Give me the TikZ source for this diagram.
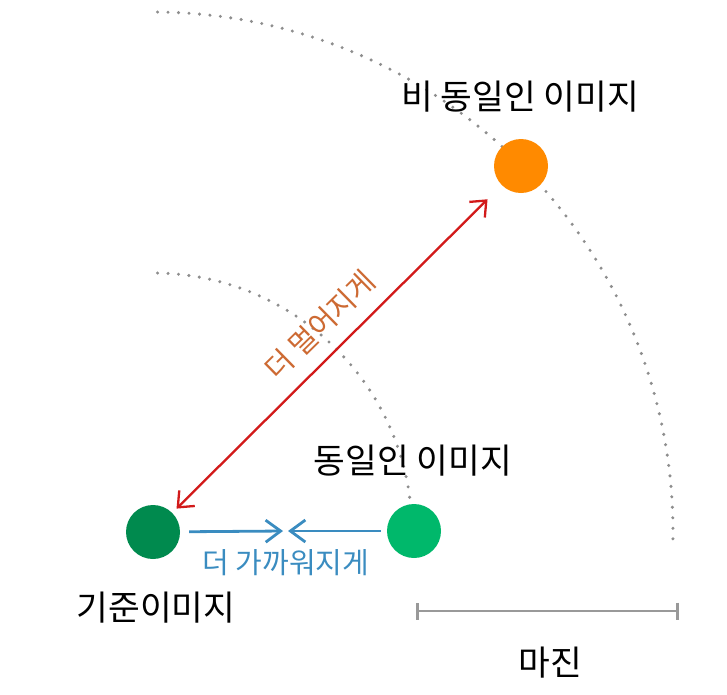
\documentclass[tikz,border=0pt]{standalone}
\usepackage{fontspec}
\setmainfont{Noto Sans CJK KR}
\usetikzlibrary{arrows.meta}
\definecolor{dotgray}{HTML}{8E8E8E}
\definecolor{bargray}{HTML}{999999}
\definecolor{anchorgreen}{HTML}{008A4E}
\definecolor{posgreen}{HTML}{00B86B}
\definecolor{negorange}{HTML}{FF8A00}
\definecolor{arrowred}{HTML}{D21A1A}
\definecolor{arrowblue}{HTML}{3A8CC0}
\definecolor{labelorange}{HTML}{CD6A33}
\tikzset{
  dot/.style={circle, minimum size=54pt, inner sep=0pt, draw=none},
  dotline/.style={dotgray, line width=3.4pt, line cap=round, dash pattern=on 0pt off 10.5pt},
  bigtext/.style={font=\fontsize{34.5}{38}\selectfont, inner sep=0pt, text=black},
  smalltext/.style={font=\fontsize{29}{32}\selectfont, inner sep=0pt},
  redarrow/.style={arrowred, line width=2.3pt, {Straight Barb[length=13pt,width=22pt,line width=2.3pt]}-{Straight Barb[length=13pt,width=22pt,line width=2.3pt]}},
  bluearrow/.style={arrowblue, line width=2.8pt, -{Straight Barb[length=15pt,width=22pt,line width=2.8pt]}},
  marginbar/.style={bargray, line width=2.8pt, {Bar[width=17pt,line width=2.8pt]}-{Bar[width=17pt,line width=2.8pt]}}
}
\begin{document}
\begin{tikzpicture}[x=1pt, y=-1pt]
\useasboundingbox (0,0) rectangle (727,694);
% arcs (drawn first, circles cover them)
\coordinate (O) at (153,532);
\draw[dotline] (O) ++(-89.5:520) arc[start angle=-89.5, end angle=1.2, radius=520];
\draw[dotline] (O) ++(-89:259) arc[start angle=-89, end angle=0, radius=259];
% circles
\node[dot, fill=anchorgreen] (A) at (153,532) {};
\node[dot, fill=posgreen] (P) at (414,531) {};
\node[dot, fill=negorange] (N) at (521,166) {};
% labels
\node[bigtext] (nlab) at (520,97) {비 동일인 이미지};
\node[bigtext] (plab) at (413,461) {동일인 이미지};
\node[bigtext] (alab) at (156,608) {기준이미지};
\node[bigtext] (mlab) at (550,663) {마진};
% red arrow
\draw[redarrow, shorten <=6pt, shorten >=20pt] (A) -- (N);
\node[smalltext, text=labelorange, rotate=44.5] (far) at (320,325) {더 멀어지게};
% blue arrows
\coordinate (b1) at (283,531);
\coordinate (b2) at (288,531);
\draw[bluearrow, shorten <=9pt] (A) -- (b1);
\draw[bluearrow, shorten <=6pt] (P) -- (b2);
\node[smalltext, text=arrowblue] (near) at (286,563) {더 가까워지게};
% margin bar
\coordinate (m1) at (416,611);
\coordinate (m2) at (679,611);
\draw[marginbar] (m1) -- (m2);
\end{tikzpicture}
\end{document}
